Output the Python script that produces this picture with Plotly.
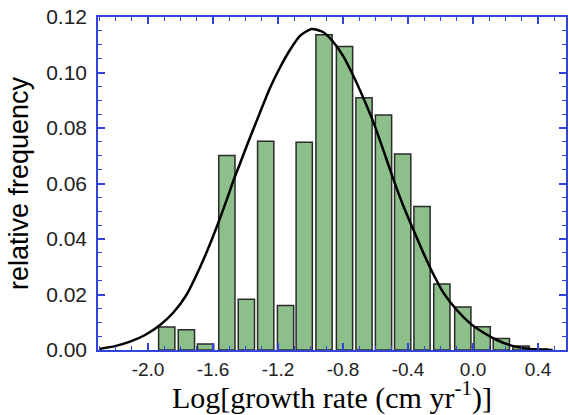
import plotly.graph_objects as go

# histogram bins (log growth rate) and relative frequencies
bin_centers = [-1.885, -1.764, -1.646, -1.515, -1.395, -1.276, -1.154, -1.039, -0.917,
               -0.791, -0.671, -0.551, -0.433, -0.314, -0.192, -0.063, 0.056, 0.174,
               0.295, 0.41]
rel_freq = [0.0083, 0.0073, 0.0022, 0.0701, 0.0183, 0.0752, 0.0160, 0.0749, 0.1136,
            0.1094, 0.0909, 0.0847, 0.0706, 0.0517, 0.0238, 0.0155, 0.0084, 0.0041,
            0.0014, 0.0004]

# fitted curve
curve_x = [-2.30, -2.203, -2.111, -2.018, -1.926, -1.844, -1.762, -1.680, -1.618, -1.563,
           -1.516, -1.475, -1.434, -1.393, -1.311, -1.249, -1.188, -1.126, -1.065, -0.993,
           -0.921, -0.860, -0.798, -0.737, -0.675, -0.614, -0.552, -0.490, -0.429, -0.367,
           -0.306, -0.244, -0.183, -0.100, -0.018, 0.063, 0.146, 0.248, 0.351, 0.433, 0.49]
curve_y = [0.0004, 0.0014, 0.0030, 0.0054, 0.0090, 0.0135, 0.0200, 0.0298, 0.0383, 0.0466,
           0.0541, 0.0610, 0.0672, 0.0735, 0.0856, 0.0945, 0.1018, 0.1082, 0.1132, 0.1157,
           0.1145, 0.1110, 0.1058, 0.0988, 0.0908, 0.0822, 0.0720, 0.0615, 0.0519, 0.0433,
           0.0350, 0.0273, 0.0207, 0.0144, 0.0096, 0.0063, 0.0036, 0.0014, 0.0004, 0.0, 0.0]

x_ticks = [-2.0, -1.6, -1.2, -0.8, -0.4, 0.0, 0.4]
x_ticktext = ['-2.0', '-1.6', '-1.2', '-0.8', '-0.4', '0.0', '0.4']

axis_blue = '#3344dd'

fig = go.Figure()

fig.add_trace(go.Bar(
    x=bin_centers, y=rel_freq, width=0.1,
    marker=dict(color='#8dbf8a', line=dict(color='#2b2b2b', width=1.5)),
    showlegend=False
))

fig.add_trace(go.Scatter(
    x=curve_x, y=curve_y, mode='lines',
    line=dict(color='black', width=2.5, shape='spline', smoothing=0.6),
    showlegend=False
))

fig.update_layout(
    width=569, height=415,
    margin=dict(l=98, r=3, t=17, b=65),
    plot_bgcolor='white', paper_bgcolor='white',
    font=dict(family='Liberation Sans, Arial', color='#222'),
)

fig.update_xaxes(
    range=[-2.308, 0.572],
    tickvals=x_ticks, ticktext=x_ticktext,
    tickfont=dict(size=19),
    ticks='inside', ticklen=7, tickcolor=axis_blue, tickwidth=1.5,
    minor=dict(dtick=0.1, ticks='inside', ticklen=4, tickcolor=axis_blue, tickwidth=1.2),
    showline=True, linecolor=axis_blue, linewidth=1.5, mirror='ticks',
    showgrid=False, zeroline=False, automargin=False, ticklabelstandoff=1,
    title=dict(text='Log[growth rate (cm yr<sup>-1</sup>)]',
               font=dict(family='Liberation Serif, Times New Roman', size=30, color='black'),
               standoff=0),
)

fig.update_yaxes(
    range=[0, 0.12],
    dtick=0.02, tickformat='.2f',
    tickfont=dict(size=21),
    ticks='inside', ticklen=7, tickcolor=axis_blue, tickwidth=1.5,
    minor=dict(dtick=0.005, ticks='inside', ticklen=4, tickcolor=axis_blue, tickwidth=1.2),
    showline=True, linecolor=axis_blue, linewidth=1.5, mirror='ticks',
    showgrid=False, zeroline=False, automargin=False, ticklabelstandoff=5,
    title=dict(text='relative frequency',
               font=dict(size=27, color='black'), standoff=10),
)

# drop the default 8px page margin so the figure sits at the window's corner
fig.write_html('out.html', config={'displayModeBar': False},
               post_script="document.body.style.margin='0px';")
